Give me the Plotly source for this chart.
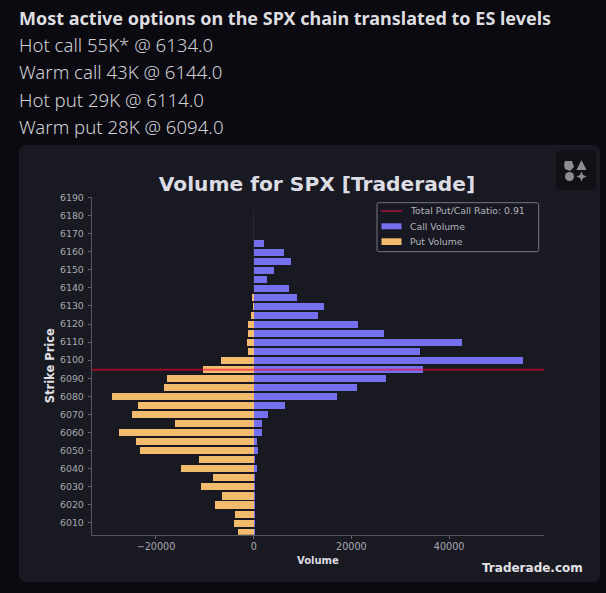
import plotly.graph_objects as go

strikes = [6165, 6160, 6155, 6150, 6145, 6140, 6135, 6130, 6125, 6120, 6115, 6110, 6105, 6100, 6095, 6090, 6085,
           6080, 6075, 6070, 6065, 6060, 6055, 6050, 6045, 6040, 6035, 6030, 6025, 6020, 6015, 6010, 6005]
call_volume = [1970, 6140, 7570, 4160, 2660, 7160, 8870, 14330, 13100, 21200, 26600, 42580, 34040, 55060, 34600,
               27020, 21080, 17050, 6400, 2930, 1640, 1640, 600, 740, 250, 530, 200, 200, 100, 100, 50, 50, 50]
put_volume = [0, 0, 0, 0, 0, 0, -410, -100, -700, -1170, -1300, -1370, -1300, -6840, -10440, -17750, -18500,
              -29150, -23750, -25050, -16100, -27700, -24150, -23270, -11200, -14940, -8330, -10930, -6550, -8060,
              -3970, -4090, -3275]
ratio_level = 6094.7
x_ticks = [-20000, 0, 20000, 40000]
x_labels = ["\u221220000", "0", "20000", "40000"]
y_ticks = list(range(6010, 6200, 10))
x_range = [-33160, 59430]
y_range = [6003.4, 6190.5]
headline = "Most active options on the SPX chain translated to ES levels"
lines = ["Hot call 55K* @ 6134.0", "Warm call 43K @ 6144.0", "Hot put 29K @ 6114.0", "Warm put 28K @ 6094.0"]
legend_names = ["Total Put/Call Ratio: 0.91", "Call Volume", "Put Volume"]

W, H = 606, 593
BG = "#0a0a10"
CARD = "#191922"
TICK = "#a9a9b2"
MONO = "DejaVu Sans"
CALL = "#7570ee"
PUT = "#f2bb6e"


def px(x):
    return x / W


def py(y):
    return 1 - y / H


def rounded(x0, y0, x1, y1, r):
    pts = [("M", x0 + r, y0), ("L", x1 - r, y0), ("Q", x1, y0, x1, y0 + r), ("L", x1, y1 - r),
           ("Q", x1, y1, x1 - r, y1), ("L", x0 + r, y1), ("Q", x0, y1, x0, y1 - r), ("L", x0, y0 + r),
           ("Q", x0, y0, x0 + r, y0)]
    out = []
    for p in pts:
        nums = p[1:]
        coords = [f"{px(nums[i])},{py(nums[i + 1])}" for i in range(0, len(nums), 2)]
        out.append(p[0] + " ".join(coords))
    return " ".join(out) + " Z"


def poly(points):
    return "M" + " L".join(f"{px(a)},{py(b)}" for a, b in points) + " Z"


fig = go.Figure()
fig.add_trace(go.Bar(y=strikes, x=call_volume, orientation="h", name=legend_names[1], width=3.9,
                     marker=dict(color=CALL, line=dict(width=0))))
fig.add_trace(go.Bar(y=strikes, x=put_volume, orientation="h", name=legend_names[2], width=3.9,
                     marker=dict(color=PUT, line=dict(width=0))))
fig.add_trace(go.Scatter(x=x_range, y=[ratio_level, ratio_level], mode="lines", name=legend_names[0],
                         line=dict(color="rgba(255,0,50,0.55)", width=2), hoverinfo="skip"))

icon = "#8e8e92"
P = dict(xref="paper", yref="paper")
shapes = [
    dict(type="path", **P, path=rounded(19, 145, 600, 582, 8), fillcolor=CARD, line_width=0, layer="below"),
    dict(type="path", **P, path=rounded(556, 150, 596, 190, 6), fillcolor="#101016", line_width=0, layer="below"),
    dict(type="path", **P, fillcolor=icon, line_width=0, layer="below",
         path=poly([(565, 161), (572, 161), (574, 167), (570, 171), (565, 169), (564, 165)])),
    dict(type="path", **P, fillcolor=icon, line_width=0, layer="below",
         path=poly([(581.5, 160), (586.5, 170), (576.5, 170)])),
    dict(type="circle", **P, fillcolor=icon, line_width=0, layer="below",
         x0=px(565), x1=px(574), y0=py(181), y1=py(172)),
    dict(type="path", **P, fillcolor=icon, line_width=0, layer="below",
         path=poly([(581.5, 171.5), (583, 175), (586.5, 176.5), (583, 178), (581.5, 181.5), (580, 178), (576.5, 176.5),
                    (580, 175)])),
    # faint zero line and hand-set compact legend
    dict(type="line", xref="x", yref="paper", x0=0, x1=0, y0=py(534.7), y1=py(210), line=dict(color="#2c2c38", width=1),
         layer="below"),
    dict(type="path", **P, path=rounded(377, 202.7, 538.7, 251.7, 2), fillcolor="rgba(25,25,34,0.85)",
         line=dict(color="#77777f", width=1), layer="above"),
    dict(type="line", **P, x0=px(381), x1=px(402), y0=py(211), y1=py(211), line=dict(color="#a8123a", width=1.5)),
    dict(type="rect", **P, x0=px(381.5), x1=px(401.5), y0=py(229.3), y1=py(223.3), fillcolor=CALL, line_width=0),
    dict(type="rect", **P, x0=px(381.5), x1=px(401.5), y0=py(245), y1=py(238.3), fillcolor=PUT, line_width=0),
]

ann = [
    dict(text=f"<b>{headline}</b>", x=px(16.5), y=py(18), xanchor="left", yanchor="middle", showarrow=False, **P,
         font=dict(family="Noto Sans", size=18, color="#dedee0")),
    dict(text="Traderade.com", x=px(532.5), y=py(567.5), xanchor="center", yanchor="middle", showarrow=False, **P,
         font=dict(family=MONO, size=12, color="#e2e2e8", weight="bold")),
]
for i, t in enumerate(lines):
    ann.append(dict(text=t, x=px(16.5), y=py(44.5 + i * 27.3), xanchor="left", yanchor="middle", showarrow=False, **P,
                    font=dict(family="Noto Sans", size=18.6, color="#d0d0d4", weight=300)))
for t, yy in zip(legend_names, [211, 226, 241]):
    ann.append(dict(text=t, x=px(408), y=py(yy), xanchor="left", yanchor="middle", showarrow=False, **P,
                    font=dict(family=MONO, size=9.3, color="#b4b4bc")))

fig.update_layout(
    width=W, height=H, margin=dict(l=0, r=0, t=0, b=0), paper_bgcolor=BG, plot_bgcolor="rgba(0,0,0,0)",
    barmode="overlay", bargap=0, shapes=shapes, annotations=ann, showlegend=False,
    title=dict(text="<b>Volume for SPX [Traderade]</b>", x=317 / W, xanchor="center", y=py(184), yanchor="middle",
               font=dict(family=MONO, size=20.2, color="#dcdce4")),
    xaxis=dict(domain=[px(91.7), px(544)], range=x_range, tickvals=x_ticks, ticktext=x_labels, ticks="outside",
               ticklen=3, tickcolor="#66666e", showline=True, linecolor="#55555e", linewidth=1, showgrid=False,
               zeroline=False, automargin=False, tickfont=dict(family=MONO, size=9.6, color=TICK),
               title=dict(text="<b>Volume</b>", font=dict(family=MONO, size=10, color="#dcdce2"), standoff=5)),
    yaxis=dict(domain=[py(534.7), py(196.7)], range=y_range, tickvals=y_ticks, ticks="outside", ticklen=3,
               tickcolor="#66666e", showline=True, linecolor="#55555e", linewidth=1, showgrid=False, zeroline=False,
               automargin=False, ticklabelstandoff=2, tickfont=dict(family=MONO, size=9.4, color=TICK), tickformat="d",
               title=dict(text="<b>Strike Price</b>", font=dict(family=MONO, size=11.5, color="#e0e0e6"), standoff=2)),
)
fig.write_html("out.html", config=dict(displayModeBar=False),
               post_script="document.body.style.margin='0';document.body.style.background='#0a0a10';"
                           "document.documentElement.style.overflow='hidden';")
